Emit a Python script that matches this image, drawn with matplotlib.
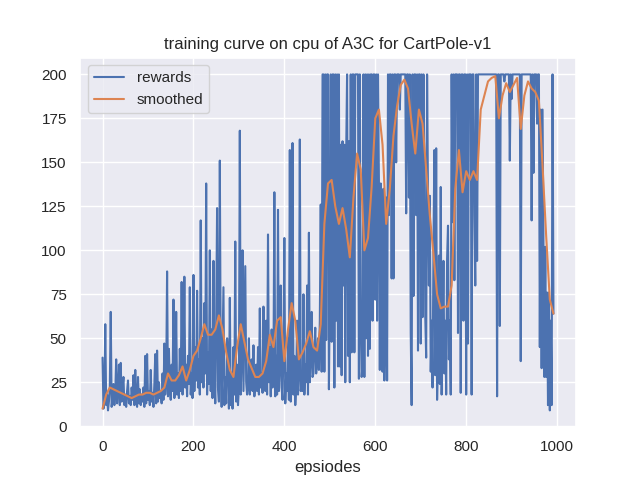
import numpy as np
import matplotlib
matplotlib.use("Agg")
import matplotlib.pyplot as plt
import seaborn as sns

# rewards, one value every 2 episodes (40 episodes per row)
rewards = [
    39, 10, 14, 58, 12, 18, 9, 14, 22, 65, 11, 16, 24, 12, 19, 38, 13, 20, 35, 12,
    36, 14, 22, 28, 12, 18, 11, 20, 26, 13, 17, 12, 22, 15, 29, 12, 32, 14, 11, 28,
    13, 21, 12, 18, 14, 22, 11, 40, 13, 41, 15, 20, 12, 32, 14, 19, 11, 24, 41, 13,
    43, 14, 25, 16, 20, 13, 30, 15, 47, 18, 26, 88, 17, 44, 22, 15, 35, 20, 72, 16,
    22, 65, 18, 30, 16, 44, 20, 82, 18, 28, 85, 22, 35, 17, 40, 24, 79, 18, 30, 16,
    86, 20, 45, 26, 77, 22, 38, 18, 117, 25, 50, 22, 70, 30, 138, 18, 42, 24, 100, 20,
    55, 16, 94, 30, 13, 60, 124, 22, 14, 151, 35, 11, 45, 79, 12, 28, 13, 50, 40, 10,
    73, 12, 30, 10, 45, 18, 105, 14, 35, 12, 22, 168, 18, 40, 100, 20, 55, 91, 25, 18,
    22, 50, 18, 30, 38, 20, 46, 17, 25, 35, 20, 45, 18, 67, 22, 30, 19, 68, 24, 20,
    60, 18, 109, 25, 45, 17, 55, 22, 30, 133, 17, 40, 18, 123, 20, 35, 80, 22, 15, 45,
    107, 13, 30, 20, 50, 15, 157, 14, 25, 161, 18, 40, 12, 22, 60, 18, 30, 163, 20, 25,
    20, 75, 18, 35, 25, 80, 18, 110, 25, 40, 65, 28, 30, 45, 56, 30, 38, 50, 32, 60,
    126, 31, 200, 200, 31, 200, 49, 200, 200, 21, 80, 200, 48, 200, 200, 22, 200, 60, 200, 34,
    200, 34, 160, 29, 162, 80, 160, 25, 155, 200, 40, 162, 25, 200, 42, 200, 200, 42, 200, 200,
    200, 200, 27, 200, 60, 28, 35, 200, 28, 200, 50, 200, 40, 200, 44, 200, 200, 60, 200, 200,
    72, 200, 60, 200, 140, 32, 138, 90, 31, 135, 26, 60, 130, 26, 200, 120, 200, 200, 84, 200,
    84, 200, 200, 150, 200, 200, 200, 180, 200, 200, 200, 200, 200, 200, 121, 200, 200, 130, 200, 53,
    12, 200, 74, 200, 200, 120, 200, 43, 200, 200, 47, 200, 62, 200, 150, 62, 39, 200, 131, 80,
    131, 31, 60, 22, 100, 157, 29, 158, 15, 40, 97, 24, 136, 18, 50, 94, 30, 60, 18, 95,
    114, 38, 60, 18, 200, 116, 200, 83, 200, 200, 200, 53, 200, 200, 19, 200, 200, 60, 200, 200,
    18, 200, 47, 200, 200, 200, 18, 200, 200, 120, 80, 200, 94, 200, 200, 200, 200, 200, 200, 200,
    200, 200, 200, 200, 200, 200, 200, 200, 200, 200, 200, 200, 200, 200, 17, 200, 200, 57, 200, 200,
    200, 200, 196, 200, 200, 200, 200, 200, 151, 200, 186, 200, 200, 200, 200, 200, 200, 200, 200, 200,
    37, 200, 200, 200, 200, 200, 200, 200, 200, 200, 200, 200, 117, 200, 144, 200, 200, 200, 172, 200,
    200, 45, 180, 33, 180, 102, 28, 102, 28, 76, 12, 76, 9, 60, 12, 200, 64,
]
reward_step = 2

# smoothed curve, one value every 8 episodes (80 episodes per row)
smoothed = [
    10, 18, 22, 21, 20, 19, 18, 17, 16, 17,
    18, 18, 19, 19, 18, 19, 20, 22, 30, 26,
    26, 29, 34, 26, 32, 40, 43, 50, 58, 52,
    52, 55, 63, 55, 42, 32, 28, 45, 58, 48,
    38, 33, 28, 28, 30, 37, 52, 45, 60, 62,
    37, 55, 70, 60, 38, 42, 47, 54, 45, 43,
    58, 115, 138, 140, 125, 115, 124, 112, 96, 130,
    155, 146, 100, 107, 136, 175, 180, 160, 115, 135,
    165, 182, 194, 197, 192, 172, 155, 180, 172, 146,
    120, 98, 75, 67, 68, 68, 80, 135, 157, 133,
    145, 140, 145, 140, 180, 188, 196, 198, 199, 175,
    188, 195, 190, 194, 198, 169, 188, 196, 192, 190,
    185, 148, 108, 72, 64,
]
smooth_step = 8

sns.set_theme()
plt.rcParams["font.family"] = ["Liberation Sans", "DejaVu Sans"]

ep_r = np.arange(len(rewards)) * reward_step
ep_s = np.arange(len(smoothed)) * smooth_step

fig, ax = plt.subplots(figsize=(6.4, 4.8), dpi=100)
ax.plot(ep_r, rewards, label="rewards")
ax.plot(ep_s, smoothed, label="smoothed")
ax.set_title("training curve on cpu of A3C for CartPole-v1")
ax.set_xlabel("epsiodes")
ax.legend(loc="upper left")

plt.savefig("out.png", dpi=100)
